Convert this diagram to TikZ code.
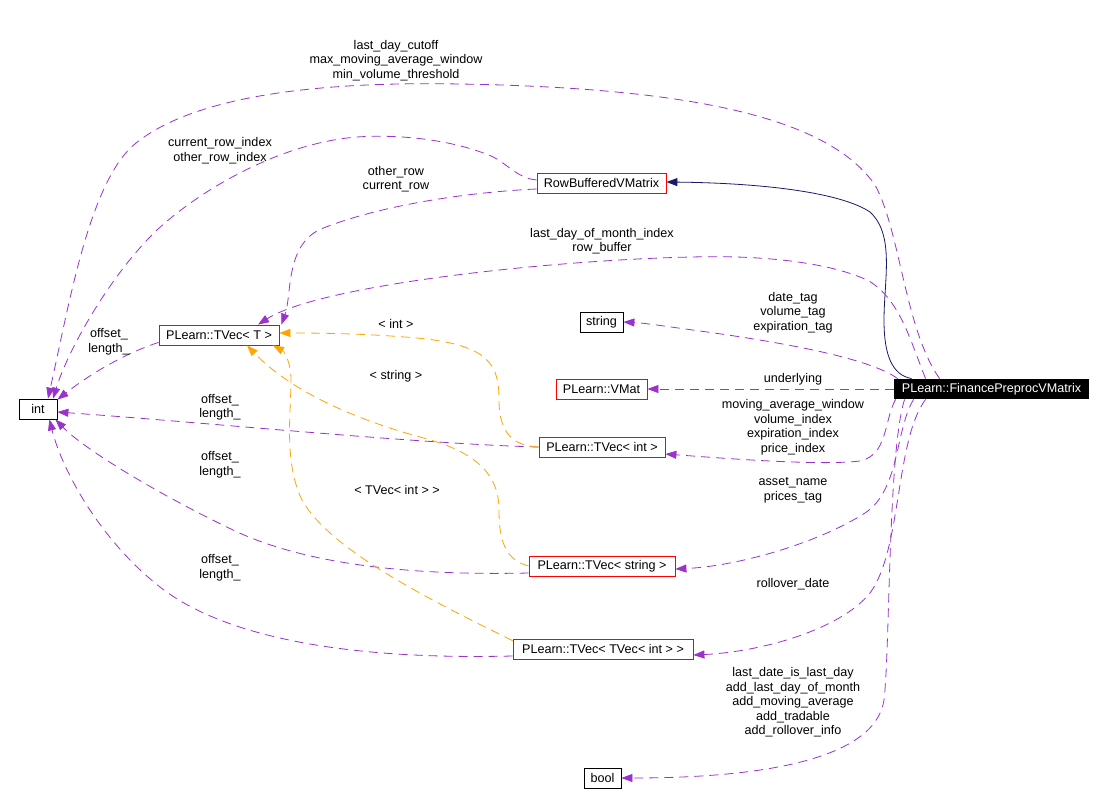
\documentclass[tikz,border=0pt]{standalone}
\usepackage{fontspec}
\setmainfont{Liberation Sans}
\usetikzlibrary{arrows.meta,calc}
\definecolor{purp}{HTML}{9A32CD}
\definecolor{orng}{HTML}{FFA500}
\definecolor{navyc}{HTML}{191970}
\definecolor{redc}{HTML}{FF0000}
\begin{document}
\begin{tikzpicture}[x=1pt,y=-1pt,
  font=\fontsize{12.6}{14.5}\selectfont,
  box/.style={inner sep=0pt, minimum height=20pt, line width=0.8pt},
  cls/.style={box, draw=redc},
  blk/.style={box, draw=black},
  sel/.style={box, fill=black, text=white},
  lbl/.style={align=center, inner sep=0pt},
  tip/.style={-{Triangle[length=11pt,width=8pt]}},
  uses/.style={tip, draw=purp, fill=none, line width=0.8pt, dash pattern=on 9pt off 6pt},
  tmpl/.style={tip, draw=orng, line width=0.8pt, dash pattern=on 9pt off 6pt},
  inh/.style={tip, draw=navyc, line width=0.8pt}]
\fill[white] (0,0) rectangle (1105,808);
\useasboundingbox (0,0) rectangle (1105,808);

% nodes
\node[blk, minimum width=38pt] (int) at (38,409) {int};
\node[cls, minimum width=120pt] (tvT) at (219,335) {PLearn::TVec< T >};
\node[cls, minimum width=129pt] (rb) at (601.5,183) {RowBufferedVMatrix};
\node[blk, minimum width=43pt] (str) at (601.5,322) {string};
\node[cls, minimum width=91pt] (vmat) at (601.5,389) {PLearn::VMat};
\node[sel, minimum width=195pt] (fin) at (991.5,389) {PLearn::FinancePreprocVMatrix};
\node[cls, minimum width=126pt] (tvi) at (602,447) {PLearn::TVec< int >};
\node[cls, minimum width=146pt] (tvs) at (602,566) {PLearn::TVec< string >};
\node[cls, minimum width=180pt] (tvt) at (603,649) {PLearn::TVec< TVec< int > >};
\node[blk, minimum width=37pt] (bool) at (602.5,778) {bool};

% connector end points on nodes
\coordinate (As) at ($(fin.north west)+(46,0)$);
\coordinate (Ds) at ($(fin.north west)+(32,0)$);
\coordinate (Ks) at ($(fin.north west)+(18,0)$);
\coordinate (Es) at ($(fin.north west)+(4,0)$);
\coordinate (Gs) at ($(fin.south west)+(2,0)$);
\coordinate (Js) at ($(fin.south west)+(11,0)$);
\coordinate (Hs) at ($(fin.south west)+(20,0)$);
\coordinate (Is) at ($(fin.south west)+(32,0)$);
\coordinate (Ae) at ($(int.north)+(10,0)$);
\coordinate (Be) at ($(int.north)+(15,0)$);
\coordinate (Te) at ($(int.north east)+(0,1)$);
\coordinate (Ve) at ($(int.east)+(0,3)$);
\coordinate (Se) at ($(int.south east)+(-2,0)$);
\coordinate (We) at ($(int.south east)+(-8,0)$);
\coordinate (Bs) at ($(rb.west)+(0,-3)$);
\coordinate (Cs) at ($(rb.west)+(0,6)$);
\coordinate (Ce) at ($(tvT.north east)+(2,0)$);
\coordinate (De) at ($(tvT.north)+(39,0)$);
\coordinate (Oe1) at ($(tvT.east)+(0,-2)$);
\coordinate (Oe2) at ($(tvT.south)+(28,0)$);
\coordinate (Oe3) at ($(tvT.south)+(54,0)$);

% inheritance
\draw[inh] (Ks) .. controls (892,375) and (884,355) .. (884,320)
  .. controls (884,280) and (895,235) .. (870,212)
  .. controls (840,192) and (760,183) .. ($(rb.east)+(0,-1)$);

% usage edges from FinancePreprocVMatrix
\draw[uses] (As) .. controls (905,330) and (900,230) .. (875,185)
  .. controls (830,120) and (700,88) .. (460,84)
  .. controls (300,81) and (190,100) .. (136,143)
  .. controls (90,180) and (70,300) .. (Ae);
\draw[uses] (Ds) .. controls (910,340) and (900,300) .. (869,281)
  .. controls (830,262) and (760,255) .. (692,257)
  .. controls (550,260) and (320,285) .. (De);
\draw[uses] (Es) .. controls (870,358) and (780,342) .. (700,331)
  .. controls (670,327) and (645,323) .. (str.east);
\draw[uses] (fin.west) -- (vmat.east);
\draw[uses] (Gs) .. controls (884,420) and (888,455) .. (860,461)
  .. controls (820,466) and (720,458) .. ($(tvi.east)+(0,7)$);
\draw[uses] (Hs) .. controls (895,430) and (900,490) .. (865,513)
  .. controls (820,542) and (740,566) .. ($(tvs.east)+(0,3)$);
\draw[uses] (Is) .. controls (895,440) and (902,550) .. (870,593)
  .. controls (840,630) and (760,652) .. ($(tvt.east)+(0,6)$);
\draw[uses] (Js) .. controls (888,450) and (890,650) .. (884,700)
  .. controls (875,760) and (760,778) .. (bool.east);

% usage edges from RowBufferedVMatrix
\draw[uses] (Bs) .. controls (515,178) and (505,160) .. (486,154)
  .. controls (450,140) and (400,134) .. (357,137)
  .. controls (280,143) and (200,190) .. (157,230)
  .. controls (110,275) and (68,350) .. (Be);
\draw[uses] (Cs) .. controls (470,192) and (380,205) .. (321,229)
  .. controls (285,245) and (292,295) .. (Ce);

% usage edges to int from the TVec classes
\draw[uses] ($(tvT.south west)+(0,-3)$) .. controls (120,355) and (85,378) .. (Te);
\draw[uses] (tvi.west) .. controls (420,444) and (200,422) .. (Ve);
\draw[uses] ($(tvs.west)+(0,7)$) .. controls (400,576) and (300,562) .. (233,530)
  .. controls (160,495) and (85,450) .. (Se);
\draw[uses] ($(tvt.west)+(0,7)$) .. controls (350,660) and (225,638) .. (160,587)
  .. controls (100,540) and (62,470) .. (We);

% template instantiations
\draw[tmpl] (tvi.west) .. controls (515,446) and (499,435) .. (499,400)
  .. controls (499,365) and (490,345) .. (417,338)
  .. controls (360,333) and (310,333) .. (Oe1);
\draw[tmpl] (tvs.west) .. controls (505,560) and (499,540) .. (499,510)
  .. controls (499,470) and (470,450) .. (420,437)
  .. controls (340,415) and (285,385) .. (Oe2);
\draw[tmpl] ($(tvt.north west)+(0,2)$) .. controls (430,600) and (330,550) .. (302,500)
  .. controls (285,465) and (290,420) .. (291,385)
  .. controls (292,365) and (285,352) .. (Oe3);

% labels
\node[lbl] (l1) at (396,60.5) {last\_day\_cutoff\\max\_moving\_average\_window\\min\_volume\_threshold};
\node[lbl] (l2) at (220,150.5) {current\_row\_index\\other\_row\_index};
\node[lbl] (l3) at (396,179) {other\_row\\current\_row};
\node[lbl] (l4) at (602,241) {last\_day\_of\_month\_index\\row\_buffer};
\node[lbl] (l5) at (396,324) {< int >};
\node[lbl] (l6) at (396,376) {< string >};
\node[lbl] (l7) at (397,490) {< TVec< int > >};
\node[lbl] (l8) at (109,341.5) {offset\_\\length\_};
\node[lbl] (l9) at (220,407) {offset\_\\length\_};
\node[lbl] (l10) at (220,464.5) {offset\_\\length\_};
\node[lbl] (l11) at (220,567.5) {offset\_\\length\_};
\node[lbl] (l12) at (793,312.5) {date\_tag\\volume\_tag\\expiration\_tag};
\node[lbl] (l13) at (793,379) {underlying};
\node[lbl] (l14) at (793,427) {moving\_average\_window\\volume\_index\\expiration\_index\\price\_index};
\node[lbl] (l15) at (793,490) {asset\_name\\prices\_tag};
\node[lbl] (l16) at (793,584) {rollover\_date};
\node[lbl] (l17) at (793,702.5) {last\_date\_is\_last\_day\\add\_last\_day\_of\_month\\add\_moving\_average\\add\_tradable\\add\_rollover\_info};
\end{tikzpicture}
\end{document}
